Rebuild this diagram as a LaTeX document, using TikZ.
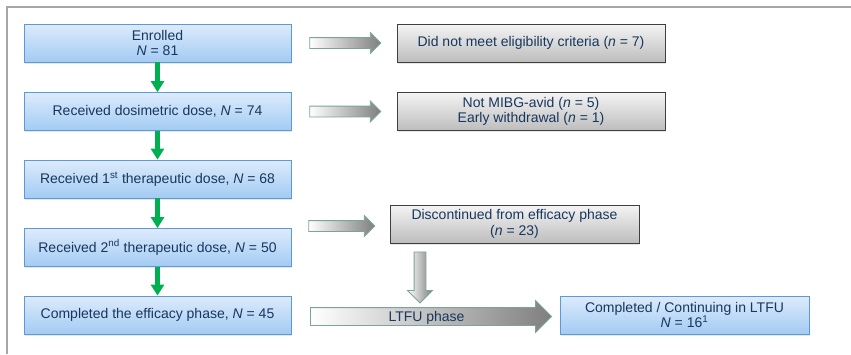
\documentclass[tikz,border=0pt]{standalone}
\usepackage{fontspec}
\setmainfont{Liberation Sans}
\usetikzlibrary{arrows.meta,shapes.arrows,shadows}
\definecolor{txtblue}{HTML}{17375E}
\definecolor{bluetop}{HTML}{DDEBFC}
\definecolor{bluebot}{HTML}{A3CBF3}
\definecolor{blueedge}{HTML}{5B9BD5}
\definecolor{graytop}{HTML}{F4F4F4}
\definecolor{graybot}{HTML}{BDBDBD}
\definecolor{grayedge}{HTML}{3F3F3F}
\definecolor{arrowedge}{HTML}{7BA597}
\definecolor{arrowgray}{HTML}{7F7F7F}
\definecolor{flowgreen}{HTML}{00B050}
\definecolor{framegray}{HTML}{A6A6A6}
\begin{document}
\begin{tikzpicture}[x=1pt, y=-1pt,
    font=\fontsize{14}{15.5}\selectfont,
    stage/.style={rectangle, draw=blueedge, line width=0.8pt, top color=bluetop, bottom color=bluebot,
        text=txtblue, align=center, inner sep=0pt, minimum height=38pt,
        drop shadow={shadow xshift=1pt, shadow yshift=-1.5pt, opacity=0.2}},
    excl/.style={rectangle, draw=grayedge, line width=0.8pt, top color=graytop, bottom color=graybot,
        text=txtblue, align=center, inner sep=0pt, minimum height=38pt,
        drop shadow={shadow xshift=1pt, shadow yshift=-1.5pt, opacity=0.2}},
    blockarrow/.style={single arrow, draw=arrowedge, line width=0.8pt, left color=white, right color=arrowgray,
        inner xsep=0pt, text=txtblue},
    flow/.style={line width=4.5pt, draw=flowgreen, -{Triangle[width=13pt,length=11pt]}}]
    \useasboundingbox (0,0) rectangle (851,354);
    \draw[framegray, line width=1.5pt] (851,7) -- (7,7) -- (7,354);

    % main stages
    \draw (157.5, 43) node[stage, minimum width=267pt](a1){Enrolled\\\textit{N} = 81}
       (157.5, 111.5) node[stage, minimum width=267pt](a2){Received dosimetric dose, \textit{N} = 74}
       (157.5, 179) node[stage, minimum width=267pt](a3){Received 1\textsuperscript{st} therapeutic dose, \textit{N} = 68}
       (157.5, 247.5) node[stage, minimum width=267pt](a4){Received 2\textsuperscript{nd} therapeutic dose, \textit{N} = 50}
       (157.5, 315) node[stage, minimum width=267pt](a5){Completed the efficacy phase, \textit{N} = 45};

    % exclusions
    \draw (531, 43) node[excl, minimum width=268pt](b1){Did not meet eligibility criteria (\textit{n} = 7)}
       (531, 111.5) node[excl, minimum width=268pt](b2){Not MIBG-avid (\textit{n} = 5)\\Early withdrawal (\textit{n} = 1)}
       (514.5, 224) node[excl, minimum width=249pt](b3){Discontinued from efficacy phase\\(\textit{n} = 23)}
       (684.5, 315) node[stage, minimum width=249pt](c1){Completed / Continuing in LTFU\\\textit{N} = 16\textsuperscript{1}};

    % block arrows
    \draw (342.5, 43) node[blockarrow, inner ysep=5pt, minimum height=71pt, single arrow head extend=5pt](r1){}
       (342.5, 111.5) node[blockarrow, inner ysep=5pt, minimum height=71pt, single arrow head extend=5pt](r2){}
       (339, 226) node[blockarrow, inner ysep=5pt, minimum height=66pt, single arrow head extend=5pt](r3){}
       (420, 274.5) node[blockarrow, rotate=-90, inner ysep=5.5pt, minimum height=51pt, single arrow head extend=6.5pt](r4){}
       (426.5, 316.5) node[blockarrow, inner ysep=0pt, text height=13.5pt, text depth=3.5pt, minimum height=241pt, single arrow head extend=7pt](r5){LTFU phase};

    \draw[flow] (a1) -- (a2);
    \draw[flow] (a2) -- (a3);
    \draw[flow] (a3) -- (a4);
    \draw[flow] (a4) -- (a5);
\end{tikzpicture}
\end{document}
